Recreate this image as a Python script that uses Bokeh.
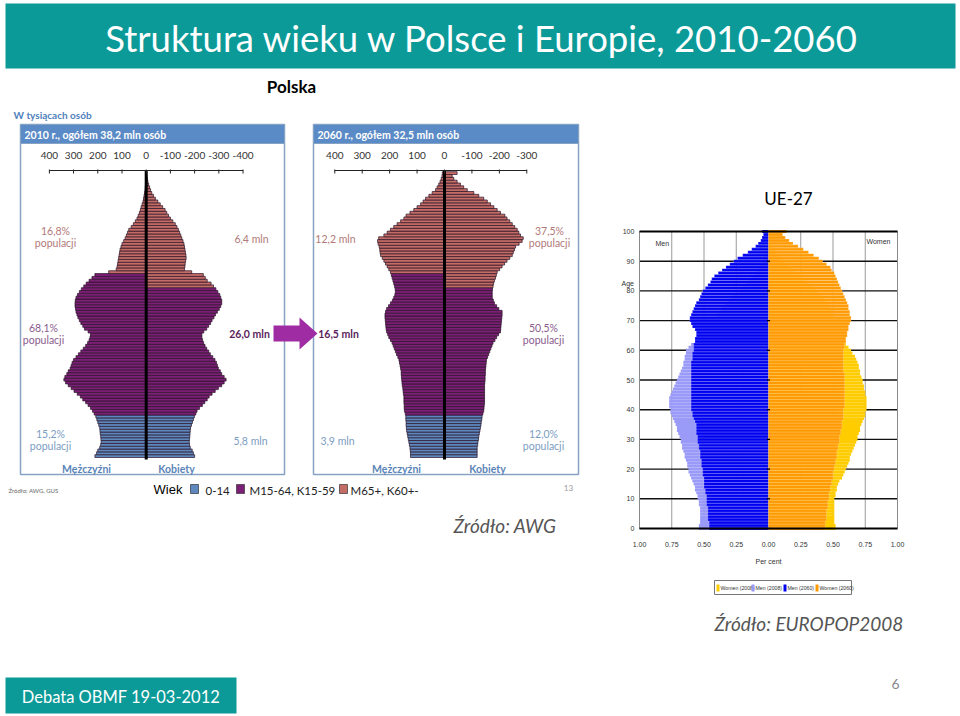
from bokeh.plotting import figure
from bokeh.models import Range1d, ColumnDataSource
from bokeh.embed import file_html
from bokeh.resources import INLINE
from bokeh.core.properties import value

# ---------------- data ----------------
ages = list(range(101))

# Poland 2010, thousands of persons by single year of age (0..100)
pl2010_men = [212, 205, 200, 192, 188, 186, 187, 188, 190, 191,
              192, 196, 200, 204, 208, 215, 222, 230, 240, 250,
              262, 272, 285, 298, 310, 322, 333, 340, 336, 328,
              322, 314, 310, 306, 300, 290, 280, 270, 260, 250,
              242, 236, 232, 230, 240, 255, 262, 270, 276, 282,
              286, 290, 292, 294, 294, 293, 290, 284, 276, 268,
              258, 248, 236, 224, 212, 155, 124, 120, 118, 116,
              114, 112, 110, 108, 104, 100, 93, 87, 82, 77,
              72, 62, 53, 45, 38, 33, 28, 24, 21, 17,
              13, 11, 9, 7, 5, 4, 3, 2, 1.5, 1,
              1]
pl2010_women = [200, 195, 190, 182, 179, 178, 179, 180, 181, 182,
                183, 187, 191, 195, 199, 205, 210, 220, 232, 242,
                252, 260, 272, 285, 298, 312, 322, 330, 322, 312,
                306, 298, 294, 290, 284, 275, 265, 258, 250, 243,
                237, 233, 230, 230, 238, 250, 258, 266, 272, 280,
                286, 294, 302, 308, 312, 312, 308, 304, 296, 288,
                278, 268, 252, 244, 236, 188, 158, 160, 161, 163,
                165, 164, 162, 160, 158, 156, 152, 147, 143, 138,
                133, 127, 120, 110, 100, 92, 85, 78, 68, 58,
                48, 38, 30, 23, 18, 14, 10, 7, 5, 3,
                2]
# Poland 2060 projection
pl2060_men = [124, 124, 125, 126, 128, 130, 132, 134, 136, 138,
              139, 140, 140, 141, 141, 143, 146, 147, 147, 148,
              148, 148, 150, 151, 152, 154, 155, 156, 157, 158,
              158, 160, 162, 164, 166, 170, 175, 179, 183, 187,
              191, 197, 203, 207, 211, 213, 214, 215, 216, 217,
              217, 215, 211, 204, 197, 190, 185, 181, 179, 180,
              182, 185, 188, 191, 194, 197, 203, 209, 215, 221,
              227, 233, 235, 236, 238, 242, 244, 240, 221, 209,
              197, 185, 173, 160, 148, 140, 126, 112, 100, 87,
              78, 69, 57, 45, 33, 27, 21, 16, 12, 9,
              8]
pl2060_women = [119, 119, 119, 119, 121, 122, 124, 125, 127, 129,
                131, 133, 134, 136, 137, 140, 143, 144, 145, 146,
                146, 146, 146, 146, 146, 146, 147, 148, 148, 149,
                149, 150, 151, 152, 153, 157, 161, 165, 169, 173,
                177, 184, 190, 197, 204, 205, 206, 207, 208, 209,
                210, 210, 198, 190, 182, 178, 174, 174, 174, 175,
                177, 179, 182, 186, 189, 192, 201, 210, 219, 228,
                238, 247, 251, 255, 259, 272, 283, 287, 277, 271,
                265, 256, 247, 238, 228, 220, 204, 192, 180, 168,
                156, 143, 125, 107, 83, 70, 58, 46, 34, 28,
                46]
pl_ticks_2010 = [400, 300, 200, 100, 0, -100, -200, -300, -400]
pl_ticks_2060 = [400, 300, 200, 100, 0, -100, -200, -300]
men_old_age = 65      # M65+
women_old_age = 60    # K60+
young_age = 15        # 0-14

# EU-27, per cent of total population by age
eu_men_2008 = [0.54, 0.54, 0.53, 0.53, 0.53, 0.53, 0.53, 0.53, 0.54, 0.54,
               0.55, 0.55, 0.56, 0.57, 0.57, 0.58, 0.59, 0.60, 0.61, 0.62,
               0.62, 0.63, 0.63, 0.64, 0.65, 0.65, 0.66, 0.67, 0.67, 0.68,
               0.68, 0.69, 0.70, 0.71, 0.71, 0.72, 0.73, 0.74, 0.75, 0.76,
               0.76, 0.77, 0.77, 0.77, 0.77, 0.76, 0.75, 0.74, 0.73, 0.72,
               0.71, 0.70, 0.69, 0.68, 0.67, 0.66, 0.66, 0.65, 0.65, 0.64,
               0.64, 0.62, 0.60, 0.55, 0.52, 0.50, 0.47, 0.46, 0.45, 0.43,
               0.41, 0.40, 0.39, 0.37, 0.36, 0.34, 0.32, 0.30, 0.28, 0.25,
               0.22, 0.20, 0.18, 0.16, 0.14, 0.12, 0.10, 0.08, 0.07, 0.06,
               0.04, 0.03, 0.03, 0.02, 0.01, 0.01, 0.01, 0.005, 0.003, 0.002,
               0.002]
eu_men_2060 = [0.46, 0.46, 0.46, 0.47, 0.47, 0.47, 0.47, 0.47, 0.48, 0.48,
               0.48, 0.48, 0.49, 0.49, 0.50, 0.50, 0.50, 0.50, 0.51, 0.51,
               0.51, 0.52, 0.52, 0.52, 0.53, 0.53, 0.53, 0.54, 0.54, 0.55,
               0.55, 0.55, 0.56, 0.56, 0.56, 0.56, 0.57, 0.58, 0.59, 0.59,
               0.60, 0.60, 0.60, 0.60, 0.60, 0.60, 0.60, 0.60, 0.60, 0.60,
               0.60, 0.60, 0.60, 0.60, 0.60, 0.60, 0.60, 0.59, 0.59, 0.59,
               0.58, 0.58, 0.58, 0.57, 0.57, 0.56, 0.56, 0.57, 0.59, 0.60,
               0.61, 0.61, 0.60, 0.59, 0.58, 0.57, 0.56, 0.54, 0.53, 0.52,
               0.51, 0.49, 0.47, 0.45, 0.44, 0.42, 0.39, 0.36, 0.33, 0.30,
               0.27, 0.24, 0.20, 0.16, 0.13, 0.10, 0.08, 0.06, 0.05, 0.04,
               0.05]
eu_women_2008 = [0.52, 0.52, 0.51, 0.51, 0.51, 0.51, 0.51, 0.51, 0.51, 0.51,
                 0.51, 0.52, 0.52, 0.53, 0.53, 0.54, 0.55, 0.57, 0.58, 0.59,
                 0.60, 0.61, 0.62, 0.63, 0.63, 0.64, 0.65, 0.66, 0.67, 0.68,
                 0.69, 0.69, 0.70, 0.71, 0.71, 0.72, 0.73, 0.74, 0.75, 0.75,
                 0.76, 0.76, 0.76, 0.76, 0.76, 0.75, 0.75, 0.74, 0.74, 0.73,
                 0.73, 0.72, 0.71, 0.71, 0.70, 0.70, 0.69, 0.68, 0.67, 0.65,
                 0.64, 0.62, 0.60, 0.58, 0.57, 0.56, 0.55, 0.55, 0.54, 0.53,
                 0.52, 0.51, 0.50, 0.49, 0.48, 0.47, 0.45, 0.43, 0.41, 0.39,
                 0.37, 0.35, 0.32, 0.30, 0.27, 0.25, 0.22, 0.19, 0.17, 0.14,
                 0.12, 0.10, 0.08, 0.06, 0.05, 0.03, 0.02, 0.015, 0.01, 0.006,
                 0.01]
eu_women_2060 = [0.44, 0.44, 0.44, 0.45, 0.45, 0.45, 0.45, 0.46, 0.46, 0.46,
                 0.47, 0.47, 0.47, 0.48, 0.48, 0.49, 0.49, 0.50, 0.50, 0.50,
                 0.51, 0.51, 0.52, 0.52, 0.53, 0.53, 0.53, 0.54, 0.54, 0.55,
                 0.55, 0.55, 0.56, 0.56, 0.57, 0.57, 0.57, 0.58, 0.58, 0.58,
                 0.58, 0.59, 0.59, 0.59, 0.59, 0.59, 0.59, 0.59, 0.59, 0.59,
                 0.59, 0.59, 0.59, 0.58, 0.58, 0.58, 0.58, 0.58, 0.58, 0.58,
                 0.58, 0.59, 0.59, 0.60, 0.60, 0.61, 0.61, 0.62, 0.62, 0.63,
                 0.64, 0.64, 0.63, 0.63, 0.62, 0.62, 0.61, 0.60, 0.59, 0.58,
                 0.57, 0.56, 0.55, 0.54, 0.53, 0.52, 0.51, 0.49, 0.48, 0.45,
                 0.42, 0.39, 0.35, 0.31, 0.27, 0.23, 0.19, 0.16, 0.13, 0.11,
                 0.14]
eu_xticks = [-1.0, -0.75, -0.5, -0.25, 0.0, 0.25, 0.5, 0.75, 1.0]
eu_xtick_labels = ["1.00", "0.75", "0.50", "0.25", "0.00", "0.25", "0.50", "0.75", "1.00"]
eu_yticks = [0, 10, 20, 30, 40, 50, 60, 70, 80, 90, 100]
eu_legend = ["Women (2008)", "Men (2008)", "Men (2060)", "Women (2060)"]

# ---------------- styling ----------------
W, H = 960, 716
TEAL = "#0B9A98"
HEAD = "#5B8BC6"
FRAME = "#86A3C3"
BLUE, PURPLE, PINK = "#5E88BE", "#7C1F77", "#C46C66"
EU_M08, EU_W08, EU_M60, EU_W60 = "#9A9AF8", "#FFCC00", "#0000F0", "#FF9A00"
FONT = "Lato"
SMALL = "Liberation Sans"


def xrange_for(c, s):
    # pixel = c + s * v along the canvas width
    return Range1d(start=(0 - c) / s, end=(W - c) / s)


def yrange_for(c, s):
    # pixel (top-down) = c + s * v ; range start maps to canvas bottom
    return Range1d(start=(H - c) / s, end=(0 - c) / s)


p = figure(width=W, height=H, x_range=Range1d(0, W), y_range=Range1d(H, 0),
           output_backend="svg", toolbar_location=None,
           x_axis_location=None, y_axis_location=None,
           min_border=0, min_border_left=0, min_border_right=0,
           min_border_top=0, min_border_bottom=0)
p.grid.visible = False
p.outline_line_color = None
p.background_fill_color = "white"
p.border_fill_color = "white"

p.extra_x_ranges = {"pl10x": xrange_for(145.7, -0.2421),
                    "pl60x": xrange_for(444.0, -0.2743),
                    "eux": xrange_for(768.0, 129.0)}
p.extra_y_ranges = {"age": yrange_for(455.6, -2.83),
                    "euy": yrange_for(528.0, -2.97)}


def txt(x, y, s, size, color="black", align="left", style="normal", font=FONT,
        xr="default", yr="default", baseline="middle"):
    xs = x if isinstance(x, list) else [x]
    ys = y if isinstance(y, list) else [y] * len(xs)
    ss = s if isinstance(s, list) else [s]
    p.text(x=xs, y=ys, text=ss, text_font=value(font), text_font_size=f"{size}px",
           text_color=color, text_align=align, text_baseline=baseline,
           text_font_style=style, x_range_name=xr, y_range_name=yr)


# ---------------- title bar ----------------
p.quad(left=[5], right=[955], top=[3], bottom=[68], fill_color=TEAL, line_color=None)
txt(491, 37, "Struktura wieku w Polsce i Europie,   2010-2060", 36.5, color="white", align="center")
txt(291, 86, "Polska", 17, style="bold", align="center")

# ---------------- Polish panels ----------------
txt(13, 114, "W tysiącach osób", 10, color="#4F81BD", style="bold")
for (l, r, head) in [(20, 284, "2010 r., ogółem 38,2 mln osób"),
                     (313, 578, "2060 r., ogółem 32,5 mln osób")]:
    p.quad(left=[l], right=[r], top=[124], bottom=[474], fill_color="white",
           line_color=FRAME, line_width=1.5)
    p.quad(left=[l], right=[r], top=[124], bottom=[143], fill_color=HEAD, line_color=FRAME)
    txt(l + 4, 134, head, 10.5, color="white", style="bold")


def pyramid(men, women, xr, ticks, axis_y):
    men_colors = [BLUE if a < young_age else PURPLE if a < men_old_age else PINK for a in ages]
    women_colors = [BLUE if a < young_age else PURPLE if a < women_old_age else PINK for a in ages]
    src_m = ColumnDataSource(dict(y=ages, r=men, c=men_colors))
    src_w = ColumnDataSource(dict(y=ages, r=[-v for v in women], c=women_colors))
    for src in (src_m, src_w):
        p.hbar(y="y", left=0, right="r", height=1, source=src, fill_color="c",
               line_color="#2a1226", line_width=0.7, x_range_name=xr, y_range_name="age")
    # centre line
    p.segment(x0=[0], x1=[0], y0=[-1.2], y1=[101.0], line_color="black", line_width=3,
              x_range_name=xr, y_range_name="age")
    # top value axis
    p.segment(x0=[ticks[0]], x1=[ticks[-1]], y0=[axis_y], y1=[axis_y], line_color="#222",
              line_width=1, x_range_name=xr)
    p.segment(x0=ticks, x1=ticks, y0=[axis_y - 1] * len(ticks), y1=[axis_y + 3] * len(ticks),
              line_color="#222", line_width=1, x_range_name=xr)
    txt(ticks, axis_y - 15, [str(t) for t in ticks], 10, color="#333", align="center", xr=xr)


pyramid(pl2010_men, pl2010_women, "pl10x", pl_ticks_2010, 170)
pyramid(pl2060_men, pl2060_women, "pl60x", pl_ticks_2060, 170)

C_OLD, C_MID, C_MIDB, C_YOUNG = "#B27a78", "#8A5C8C", "#5B1E5B", "#7C9DC2"
# 2010 annotations
txt(55, 230, "16,8%", 10.5, color=C_OLD, align="center")
txt(55, 242, "populacji", 10.5, color=C_OLD, align="center")
txt(251, 238, "6,4 mln", 10.5, color=C_OLD, align="center")
txt(43, 327, "68,1%", 10.5, color=C_MID, align="center")
txt(43, 339, "populacji", 10.5, color=C_MID, align="center")
txt(249, 333, "26,0 mln", 10.5, color=C_MIDB, align="center", style="bold")
txt(50, 433, "15,2%", 10.5, color=C_YOUNG, align="center")
txt(50, 445, "populacji", 10.5, color=C_YOUNG, align="center")
txt(250, 440, "5,8 mln", 10.5, color=C_YOUNG, align="center")
txt(86, 468, "Mężczyźni", 10.5, color="#5A84B8", align="center", style="bold")
txt(176, 468, "Kobiety", 10.5, color="#5A84B8", align="center", style="bold")
# 2060 annotations
txt(335, 238, "12,2 mln", 10.5, color=C_OLD, align="center")
txt(549, 230, "37,5%", 10.5, color=C_OLD, align="center")
txt(549, 242, "populacji", 10.5, color=C_OLD, align="center")
txt(338, 333, "16,5 mln", 10.5, color=C_MIDB, align="center", style="bold")
txt(543, 327, "50,5%", 10.5, color=C_MID, align="center")
txt(543, 339, "populacji", 10.5, color=C_MID, align="center")
txt(337, 440, "3,9 mln", 10.5, color=C_YOUNG, align="center")
txt(543, 433, "12,0%", 10.5, color=C_YOUNG, align="center")
txt(543, 445, "populacji", 10.5, color=C_YOUNG, align="center")
txt(396, 468, "Mężczyźni", 10.5, color="#5A84B8", align="center", style="bold")
txt(487, 468, "Kobiety", 10.5, color="#5A84B8", align="center", style="bold")

# arrow between panels
p.patch(x=[273, 299, 299, 317, 299, 299, 273], y=[325, 325, 317, 333, 349, 341, 341],
        fill_color="#A02CA3", line_color=None)

# Polish legend line
txt(8, 490, "Źródło: AWG, GUS", 6, color="#666")
txt(153, 489, "Wiek", 13, font=SMALL)
for (l, lab, col, tx) in [(190, "0-14", BLUE, 205), (236, "M15-64, K15-59", PURPLE, 249),
                          (339, "M65+, K60+-", PINK, 350)]:
    p.quad(left=[l], right=[l + 8], top=[484], bottom=[493], fill_color=col, line_color="#333",
           line_width=0.7)
    txt(tx, 490, lab, 11.5, color="#222")
txt(568, 487, "13", 8, color="#9a9a9a", align="center")
txt(453, 525, "Źródło: AWG", 19, color="#555", style="italic")

# ---------------- EU-27 pyramid ----------------
txt(788, 198, "UE-27", 17, align="center")
# grid (under bars)
grid_x = [t for t in eu_xticks if abs(t) < 1]
p.segment(x0=grid_x, x1=grid_x, y0=[0] * len(grid_x), y1=[100] * len(grid_x),
          line_color="#9a9a9a", line_width=1, x_range_name="eux", y_range_name="euy")
inner_y = eu_yticks[1:-1]
p.segment(x0=[-1] * len(inner_y), x1=[1] * len(inner_y), y0=inner_y, y1=inner_y,
          line_color="#111", line_width=1.4, x_range_name="eux", y_range_name="euy")
p.quad(left=[-1], right=[1], bottom=[0], top=[100], fill_color=None, line_color="#8a8a8a",
       line_width=1, x_range_name="eux", y_range_name="euy")

p.hbar(y=ages, left=[-v for v in eu_men_2008], right=0, height=1, fill_color=EU_M08,
       line_color=None, x_range_name="eux", y_range_name="euy")
p.hbar(y=ages, left=0, right=eu_women_2008, height=1, fill_color=EU_W08,
       line_color=None, x_range_name="eux", y_range_name="euy")
p.hbar(y=ages, left=[-v for v in eu_men_2060], right=0, height=1, fill_color=EU_M60,
       line_color="#ffffff", line_width=0.35, line_alpha=0.55, x_range_name="eux", y_range_name="euy")
p.hbar(y=ages, left=0, right=eu_women_2060, height=1, fill_color=EU_W60,
       line_color="#ffffff", line_width=0.35, line_alpha=0.55, x_range_name="eux", y_range_name="euy")

# bottom / top axis lines and centre ticks
p.segment(x0=[-1, -1], x1=[1, 1], y0=[0, 100], y1=[0, 100], line_color="black", line_width=2,
          x_range_name="eux", y_range_name="euy")
p.segment(x0=[-0.012] * len(eu_yticks), x1=[0.012] * len(eu_yticks), y0=eu_yticks, y1=eu_yticks,
          line_color="black", line_width=1.2, x_range_name="eux", y_range_name="euy")

txt([-1.04] * len(eu_yticks), eu_yticks, [str(t) for t in eu_yticks], 7, color="#333",
    align="right", font=SMALL, xr="eux", yr="euy")
txt(eu_xticks, 544, eu_xtick_labels, 7, color="#333", align="center", font=SMALL, xr="eux")
txt(768, 561, "Per cent", 7, color="#333", align="center", font=SMALL)
txt(621, 283, "Age", 7, color="#333", font=SMALL)
txt(655, 243, "Men", 7, color="#333", font=SMALL)
txt(866, 241, "Women", 7, color="#333", font=SMALL)

# EU legend
p.quad(left=[714], right=[851], top=[580], bottom=[594], fill_color="white", line_color="#777",
       line_width=1)
for (l, lab, col) in zip([716, 751, 783, 815], eu_legend, [EU_W08, EU_M08, EU_M60, EU_W60]):
    p.quad(left=[l], right=[l + 3], top=[584], bottom=[591], fill_color=col, line_color=None)
    txt(l + 4, 587.5, lab, 5.2, color="#333", font=SMALL)
txt(714, 623, "Źródło: EUROPOP2008", 19, color="#555", style="italic")

# ---------------- footer ----------------
p.quad(left=[5], right=[236], top=[677], bottom=[713], fill_color=TEAL, line_color=None)
txt(120.5, 696, "Debata OBMF 19-03-2012", 16.5, color="white", align="center")
txt(895, 683, "6", 14, color="#8a8a8a", align="center")

open("out.html", "w").write(file_html(p, INLINE))
